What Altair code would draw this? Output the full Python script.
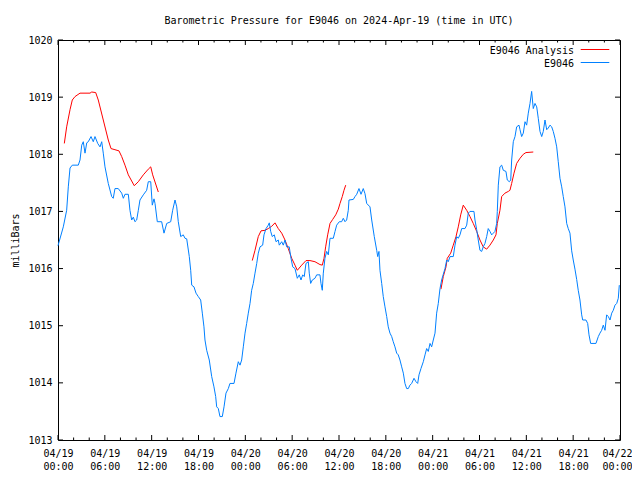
import altair as alt
import pandas as pd

# E9046 observed pressure: hours since 2024-04-19 00:00 UTC, milliBars
blue_h = [0.0, 0.68, 1.11, 1.32, 1.54, 1.83, 2.60, 2.82, 3.04, 3.24, 3.46, 3.68, 3.88, 4.23, 4.52, 4.74,
          5.09, 5.38, 5.60, 5.80, 6.02, 6.44, 6.88, 7.08, 7.30, 7.72, 8.16, 8.37, 8.58, 9.01, 9.22, 9.44,
          9.65, 9.86, 10.08, 10.29, 10.50, 10.93, 11.36, 11.57, 11.88, 12.08, 12.30, 12.43, 12.72, 13.28,
          13.58, 13.93, 14.44, 14.69, 14.99, 15.21, 15.41, 15.72, 16.05, 16.27, 16.49, 16.82, 17.00, 17.13,
          17.42, 17.68, 17.97, 18.28, 18.49, 18.70, 18.83, 19.05, 19.38, 19.69, 19.98, 20.20, 20.33, 20.54,
          20.75, 21.05, 21.27, 21.52, 21.82, 22.03, 22.55, 22.80, 23.10, 23.32, 23.53, 23.74, 23.96, 24.17,
          24.38, 24.60, 24.81, 25.02, 25.24, 25.46, 25.66, 25.88, 26.22, 26.39, 26.65, 26.94, 27.07, 27.25,
          27.45, 27.71, 27.93, 28.22, 28.35, 28.66, 28.86, 29.08, 29.30, 29.63, 29.81, 30.07, 30.36, 30.66,
          30.91, 31.13, 31.35, 31.55, 31.77, 32.07, 32.19, 32.37, 32.58, 32.92, 33.14, 33.56, 33.69, 33.86,
          33.99, 34.20, 34.42, 34.63, 34.85, 35.27, 35.49, 35.70, 36.04, 36.34, 36.55, 36.77, 36.98, 37.19,
          37.28, 37.83, 38.05, 38.27, 38.56, 38.82, 39.11, 39.33, 39.55, 39.97, 40.19, 40.52, 40.83, 40.96,
          41.12, 41.25, 41.47, 41.67, 41.89, 42.11, 42.31, 42.53, 42.75, 42.95, 43.17, 43.39, 43.59, 43.81,
          44.03, 44.24, 44.45, 44.67, 44.88, 45.09, 45.31, 45.61, 45.86, 46.08, 46.25, 46.50, 46.80, 47.02,
          47.23, 47.44, 47.66, 47.87, 48.08, 48.30, 48.51, 48.72, 48.94, 49.15, 49.36, 49.58, 49.80, 50.00,
          50.22, 50.64, 50.86, 51.08, 51.28, 51.50, 51.72, 52.14, 52.36, 52.56, 52.78, 53.29, 53.42, 53.64,
          53.84, 54.06, 54.28, 54.48, 54.70, 54.92, 55.12, 55.34, 55.56, 55.77, 55.98, 56.20, 56.28, 56.41,
          56.62, 56.84, 57.05, 57.39, 57.56, 57.82, 58.00, 58.12, 58.33, 58.55, 58.76, 59.06, 59.19, 59.40,
          59.61, 59.83, 60.04, 60.25, 60.47, 60.68, 60.89, 61.11, 61.33, 61.53, 61.75, 61.97, 62.17, 62.39,
          62.61, 62.81, 63.03, 63.25, 63.45, 63.67, 63.89, 64.09, 64.31, 64.53, 64.73, 64.95, 65.17, 65.37,
          65.59, 65.81, 66.01, 66.23, 66.45, 66.65, 66.87, 67.09, 67.22, 67.64, 67.86, 68.03, 68.24, 68.92,
          69.22, 69.43, 69.65, 69.86, 70.08, 70.29, 70.50, 70.72, 70.94, 71.14, 71.36, 71.58, 71.78, 71.91]
blue_p = [1016.40, 1016.73, 1017.02, 1017.43, 1017.76, 1017.81, 1017.81, 1017.90, 1018.16, 1018.22, 1018.02,
          1018.20, 1018.22, 1018.31, 1018.22, 1018.31, 1018.19, 1018.13, 1018.22, 1018.02, 1017.78, 1017.49,
          1017.26, 1017.23, 1017.40, 1017.40, 1017.32, 1017.23, 1017.30, 1017.30, 1017.02, 1016.85, 1016.90,
          1016.82, 1016.85, 1017.02, 1017.20, 1017.29, 1017.37, 1017.52, 1017.52, 1017.11, 1017.22, 1017.14,
          1016.82, 1016.82, 1016.62, 1016.79, 1016.82, 1017.02, 1017.20, 1017.08, 1016.82, 1016.56, 1016.59,
          1016.53, 1016.52, 1016.21, 1015.97, 1015.71, 1015.68, 1015.57, 1015.51, 1015.45, 1015.22, 1014.98,
          1014.75, 1014.57, 1014.40, 1014.11, 1013.93, 1013.76, 1013.58, 1013.55, 1013.41, 1013.41, 1013.58,
          1013.82, 1013.90, 1013.99, 1013.99, 1014.17, 1014.37, 1014.31, 1014.40, 1014.63, 1014.87, 1015.04,
          1015.22, 1015.39, 1015.62, 1015.74, 1015.92, 1016.09, 1016.27, 1016.38, 1016.41, 1016.59, 1016.70,
          1016.76, 1016.80, 1016.65, 1016.56, 1016.59, 1016.47, 1016.50, 1016.41, 1016.47, 1016.41, 1016.50,
          1016.38, 1016.38, 1016.21, 1016.03, 1016.00, 1015.83, 1015.89, 1015.80, 1015.89, 1015.86, 1016.09,
          1016.12, 1015.92, 1015.74, 1015.80, 1015.83, 1015.89, 1015.89, 1015.74, 1015.62, 1015.92, 1016.18,
          1016.30, 1016.24, 1016.53, 1016.53, 1016.65, 1016.76, 1016.82, 1016.82, 1016.88, 1016.82, 1016.85,
          1017.02, 1017.20, 1017.21, 1017.26, 1017.30, 1017.40, 1017.30, 1017.40, 1017.31, 1017.14, 1017.08,
          1016.85, 1016.56, 1016.32, 1016.21, 1016.30, 1015.97, 1015.74, 1015.51, 1015.33, 1015.16, 1014.98,
          1014.87, 1014.81, 1014.72, 1014.63, 1014.52, 1014.49, 1014.40, 1014.28, 1014.17, 1013.99, 1013.90,
          1013.90, 1013.96, 1013.99, 1014.08, 1014.02, 1013.99, 1014.14, 1014.25, 1014.37, 1014.49, 1014.60,
          1014.55, 1014.69, 1014.63, 1014.75, 1014.87, 1015.22, 1015.39, 1015.65, 1015.80, 1015.90, 1016.00,
          1016.15, 1016.12, 1016.21, 1016.21, 1016.41, 1016.56, 1016.53, 1016.59, 1016.70, 1016.70, 1016.76,
          1016.97, 1017.00, 1017.00, 1016.85, 1016.68, 1016.50, 1016.32, 1016.30, 1016.38, 1016.44, 1016.56,
          1016.70, 1016.65, 1016.59, 1016.62, 1016.65, 1016.79, 1017.00, 1017.46, 1017.78, 1017.81, 1017.72,
          1017.70, 1017.55, 1017.52, 1017.55, 1017.90, 1018.22, 1018.31, 1018.48, 1018.51, 1018.43, 1018.31,
          1018.37, 1018.57, 1018.51, 1018.72, 1018.89, 1019.10, 1018.80, 1018.89, 1018.83, 1018.63, 1018.40,
          1018.31, 1018.40, 1018.60, 1018.43, 1018.46, 1018.51, 1018.48, 1018.40, 1018.28, 1018.13, 1017.87,
          1017.58, 1017.43, 1017.26, 1017.08, 1016.79, 1016.70, 1016.62, 1016.31, 1016.15, 1015.99, 1015.81,
          1015.62, 1015.45, 1015.19, 1015.10, 1015.10, 1015.04, 1014.84, 1014.69, 1014.69, 1014.81, 1014.87,
          1014.92, 1015.01, 1014.92, 1015.19, 1015.16, 1015.10, 1015.22, 1015.27, 1015.36, 1015.39, 1015.48,
          1015.71]

# E9046 Analysis (three separate runs)
red1_h = [0.81, 1.11, 1.54, 1.83, 2.18, 2.82, 4.10, 4.32, 4.83, 5.16, 5.80, 6.44, 6.79, 7.30, 7.81, 8.16,
          8.58, 9.01, 9.77, 10.29, 10.93, 11.57, 11.88, 12.13, 12.85]
red1_p = [1018.19, 1018.48, 1018.78, 1018.95, 1019.01, 1019.07, 1019.07, 1019.09, 1019.08, 1018.95, 1018.60,
          1018.25, 1018.10, 1018.08, 1018.06, 1017.96, 1017.81, 1017.64, 1017.45, 1017.52, 1017.64, 1017.74,
          1017.78, 1017.64, 1017.34]
red2_h = [24.89, 25.24, 25.66, 26.01, 26.52, 26.94, 27.38, 27.80, 28.22, 28.66, 29.08, 29.50, 29.94, 30.36,
          30.66, 31.22, 31.77, 32.28, 32.92, 33.56, 33.86, 34.08, 34.29, 34.55, 34.85, 35.19, 35.58, 35.91,
          36.13, 36.42, 36.64, 36.86]
red2_p = [1016.14, 1016.32, 1016.56, 1016.66, 1016.67, 1016.70, 1016.74, 1016.80, 1016.70, 1016.62, 1016.50,
          1016.35, 1016.18, 1016.06, 1015.97, 1016.06, 1016.14, 1016.14, 1016.12, 1016.07, 1016.06, 1016.18,
          1016.38, 1016.59, 1016.79, 1016.86, 1016.94, 1017.04, 1017.14, 1017.26, 1017.37, 1017.46]
red3_h = [49.06, 49.36, 49.71, 49.87, 50.31, 50.64, 50.99, 51.28, 51.59, 51.92, 52.36, 52.78, 53.20, 53.64,
          54.06, 54.48, 54.92, 55.34, 55.77, 56.11, 56.28, 56.62, 56.84, 57.26, 57.69, 57.90, 58.12, 58.42,
          58.76, 59.19, 59.61, 59.95, 60.89]
red3_p = [1015.64, 1015.86, 1016.03, 1016.18, 1016.27, 1016.41, 1016.56, 1016.73, 1016.94, 1017.11, 1017.02,
          1016.91, 1016.79, 1016.65, 1016.50, 1016.38, 1016.34, 1016.41, 1016.50, 1016.59, 1016.79, 1017.02,
          1017.26, 1017.32, 1017.35, 1017.37, 1017.49, 1017.67, 1017.84, 1017.93, 1018.00, 1018.03, 1018.04]

x_major = list(range(0, 73, 6))
x_minor = [h for h in range(0, 73, 2) if h % 6 != 0]
y_ticks = list(range(1013, 1021))
legend_labels = ["E9046 Analysis", "E9046"]
title_text = "Barometric Pressure for E9046 on 2024-Apr-19 (time in UTC)"

RED = "#ff0000"
BLUE = "#0080ff"
FONT = "DejaVu Sans Mono"
W, H = 562, 400

blue_df = pd.DataFrame({"h": blue_h, "p": blue_p})
red_df = pd.concat([
    pd.DataFrame({"h": red1_h, "p": red1_p, "seg": 1}),
    pd.DataFrame({"h": red2_h, "p": red2_p, "seg": 2}),
    pd.DataFrame({"h": red3_h, "p": red3_p, "seg": 3}),
])

xs = alt.Scale(domain=[0, 72], nice=False, zero=False)
ys = alt.Scale(domain=[1013, 1020], nice=False, zero=False)

xaxis = alt.Axis(
    values=x_major, grid=False, ticks=False, tickSize=0, domain=False, title=None,
    labelExpr="['04/' + (19 + floor(datum.value / 24)), (datum.value % 24 < 10 ? '0' : '') + (datum.value % 24) + ':00']",
    labelFont=FONT, labelFontSize=10, labelColor="black", labelPadding=8, labelLineHeight=13,
    labelFlush=False, labelOverlap=False, labelBound=False,
    labelOffset={"condition": {"test": "datum.value == 72", "value": -3}, "value": 0},
)
yaxis = alt.Axis(
    values=y_ticks, grid=False, ticks=False, tickSize=0, domain=False, title="milliBars",
    format="d", labelFont=FONT, labelFontSize=10, labelColor="black", labelPadding=6,
    labelFlush=False, labelOverlap=False,
    titleFont=FONT, titleFontSize=10, titleFontWeight="normal", titleColor="black", titlePadding=7,
)

X = alt.X("h:Q", scale=xs, axis=xaxis)
Y = alt.Y("p:Q", scale=ys, axis=yaxis)

red_line = alt.Chart(red_df).mark_line(color=RED, strokeWidth=1).encode(x=X, y=Y, detail="seg:N")
blue_line = alt.Chart(blue_df).mark_line(color=BLUE, strokeWidth=1).encode(x=X, y=Y)

xmaj_df = pd.DataFrame({"h": x_major})
xmin_df = pd.DataFrame({"h": x_minor})
yt_df = pd.DataFrame({"p": y_ticks})

def xtick(df, y0, y1):
    return alt.Chart(df).mark_rule(color="black", strokeWidth=1).encode(
        x=X, y=alt.value(y0), y2=alt.value(y1))

def ytick(x0, x1):
    return alt.Chart(yt_df).mark_rule(color="black", strokeWidth=1).encode(
        y=Y, x=alt.value(x0), x2=alt.value(x1))

ticks = [
    xtick(xmaj_df, H, H - 5), xtick(xmaj_df, 0, 5),
    xtick(xmin_df, H, H - 2.5), xtick(xmin_df, 0, 2.5),
    ytick(0, 5), ytick(W - 5, W),
]

leg_df = pd.DataFrame({"label": legend_labels})
leg_text1 = alt.Chart(leg_df.iloc[[0]]).mark_text(
    font=FONT, fontSize=10, align="right", baseline="middle", color="black"
).encode(text="label:N", x=alt.value(516), y=alt.value(10.5))
leg_text2 = alt.Chart(leg_df.iloc[[1]]).mark_text(
    font=FONT, fontSize=10, align="right", baseline="middle", color="black"
).encode(text="label:N", x=alt.value(516), y=alt.value(24))
leg_rule1 = alt.Chart(leg_df.iloc[[0]]).mark_rule(color=RED, strokeWidth=1).encode(
    x=alt.value(522.7), x2=alt.value(551.3), y=alt.value(9.5))
leg_rule2 = alt.Chart(leg_df.iloc[[1]]).mark_rule(color=BLUE, strokeWidth=1).encode(
    x=alt.value(522.7), x2=alt.value(551.3), y=alt.value(22.5))

chart = alt.layer(
    red_line, blue_line, *ticks, leg_text1, leg_text2, leg_rule1, leg_rule2
).properties(
    width=W, height=H,
    title=alt.TitleParams(text=title_text, font=FONT, fontSize=10, fontWeight="normal",
                          color="black", offset=9, anchor="middle"),
    padding={"left": 50, "top": 32, "right": 12, "bottom": 32},
    autosize=alt.AutoSizeParams(type="none"),
).configure_view(stroke="black", strokeWidth=1)

chart.save("out.html", embed_options={"renderer": "svg", "actions": False})
